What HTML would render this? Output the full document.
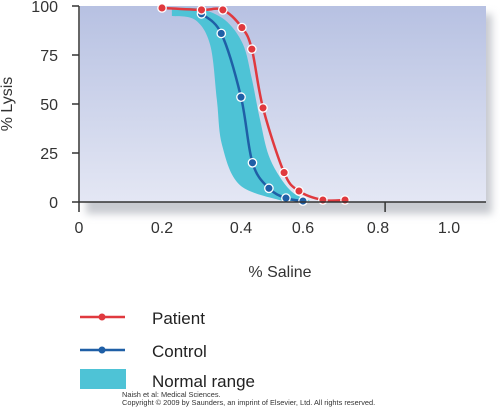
<!DOCTYPE html>
<html><head><meta charset="utf-8"><style>
body{margin:0;background:#fff;}
svg{display:block;font-family:"Liberation Sans",sans-serif;}
</style></head><body>
<svg width="500" height="407" viewBox="0 0 500 407">
<defs>
<linearGradient id="bg" x1="0" y1="0" x2="0" y2="1"><stop offset="0" stop-color="#b7c1e2"/><stop offset="1" stop-color="#e4e7f4"/></linearGradient>
<filter id="sh" x="-5%" y="-5%" width="115%" height="125%"><feGaussianBlur stdDeviation="4"/></filter>
</defs>
<rect x="86" y="14" width="406" height="200" fill="#c8cad0" filter="url(#sh)"/>
<rect x="80" y="6" width="406" height="196" fill="url(#bg)"/>
<g id="marks"></g>
<line x1="79" y1="202" x2="486" y2="202" stroke="#333" stroke-width="1.5"/>
<line x1="79" y1="6" x2="79" y2="202" stroke="#333" stroke-width="1.5"/>
<g id="ticks" font-size="16" fill="#333"></g>
<text x="12" y="104" font-size="16" fill="#333" text-anchor="middle" transform="rotate(-90 12 104)">% Lysis</text>
<text x="280" y="277" font-size="16" fill="#333" text-anchor="middle">% Saline</text>
<g>
<g><line x1="80" y1="317" x2="125" y2="317" stroke="#e0393e" stroke-width="2.5"/><circle cx="102" cy="317" r="3.5" fill="#e0393e"/><text x="152" y="324" font-size="17" fill="#222">Patient</text></g>
<g><line x1="80" y1="350" x2="125" y2="350" stroke="#1f5fa6" stroke-width="2.5"/><circle cx="102" cy="350" r="3.5" fill="#1f5fa6"/><text x="152" y="357" font-size="17" fill="#222">Control</text></g>
<g><rect x="80" y="369" width="46" height="20" fill="#4ec3d6"/><text x="152" y="387" font-size="17" fill="#222">Normal range</text></g>
</g>
<text x="122" y="397" font-size="7.4" fill="#333">Naish et al: Medical Sciences.</text>
<text x="122" y="405" font-size="7.4" fill="#333">Copyright © 2009 by Saunders, an imprint of Elsevier, Ltd. All rights reserved.</text>
</svg>
<script>
const xTickVals=[0,0.2,0.4,0.6,0.8,1.0];
const xTickLabels=["0","0.2","0.4","0.6","0.8","1.0"];
const yTickVals=[0,25,50,75,100];
const patientX=[0.2,0.3,0.354,0.403,0.435,0.471,0.539,0.587,0.653,0.712];
const patientY=[99,98,98,89,78,48,15,5.6,1,1];
const controlX=[0.3,0.35,0.4,0.437,0.49,0.545,0.6];
const controlY=[96,86,53.5,20,7,2,0.5];
const bandLowX=[0.225,0.284,0.322,0.339,0.352,0.397,0.535];
const bandLowY=[94.9,92.9,80.1,52,29.1,8.7,0.5];
const bandHighX=[0.225,0.296,0.359,0.406,0.435,0.461,0.494,0.558,0.619];
const bandHighY=[99,98.5,92.9,80.6,62.8,42.3,21.9,6.1,0.5];
// original figure's x axis is non-uniform: piecewise mapping through tick pixels
const xTickPx=[79,162,241,303,378,449];
function xs(v){for(let i=0;i<xTickVals.length-1;i++){if(v<=xTickVals[i+1]||i==xTickVals.length-2){const t=(v-xTickVals[i])/(xTickVals[i+1]-xTickVals[i]);return xTickPx[i]+t*(xTickPx[i+1]-xTickPx[i]);}}}
function ys(v){return 202-1.96*v;}
const NS="http://www.w3.org/2000/svg";
function mk(t,a){const e=document.createElementNS(NS,t);for(const k in a)e.setAttribute(k,a[k]);return e;}
function smooth(p){let d="M"+p[0][0]+","+p[0][1];for(let i=0;i<p.length-1;i++){const p0=p[i-1]||p[i],p1=p[i],p2=p[i+1],p3=p[i+2]||p2;d+=" C"+(p1[0]+(p2[0]-p0[0])/6)+","+(p1[1]+(p2[1]-p0[1])/6)+" "+(p2[0]-(p3[0]-p1[0])/6)+","+(p2[1]-(p3[1]-p1[1])/6)+" "+p2[0]+","+p2[1];}return d;}
const marks=document.getElementById('marks');
const lo=bandLowX.map((x,i)=>[xs(x),ys(bandLowY[i])]);
const hi=bandHighX.map((x,i)=>[xs(x),ys(bandHighY[i])]).reverse();
const bd=smooth(lo)+" L"+hi[0][0]+","+hi[0][1]+smooth(hi).replace(/^M[^C]*/," ")+"Z";
const band=mk('path',{d:bd,fill:'#4ec3d6'});


marks.appendChild(band);
function series(X,Y,col,name){const p=X.map((x,i)=>[xs(x),ys(Y[i])]);
const l=mk('path',{d:smooth(p),fill:'none',stroke:col,'stroke-width':2.5});


marks.appendChild(l);
p.forEach(q=>{const c=mk('circle',{cx:q[0],cy:q[1],r:4.2,fill:col,stroke:'#fff','stroke-width':1.3});


marks.appendChild(c);});}
series(controlX,controlY,'#1f5fa6','control');
series(patientX,patientY,'#e0393e','patient');
const tk=document.getElementById('ticks');
xTickVals.forEach((v,i)=>{const x=xs(v);
const t=mk('text',{x:x,y:233,'text-anchor':'middle'});t.textContent=xTickLabels[i];


tk.appendChild(t);});
[0,0.82].forEach(v=>{const l=mk('line',{x1:xs(v),x2:xs(v),y1:202,y2:212,stroke:'#333','stroke-width':1.5});


tk.appendChild(l);});
yTickVals.forEach(v=>{const t=mk('text',{x:58,y:ys(v)+6,'text-anchor':'end'});t.textContent=v;


tk.appendChild(t);
const l=mk('line',{x1:72,x2:79,y1:ys(v),y2:ys(v),stroke:'#333','stroke-width':1.5});


tk.appendChild(l);});
</script>
</body></html>
